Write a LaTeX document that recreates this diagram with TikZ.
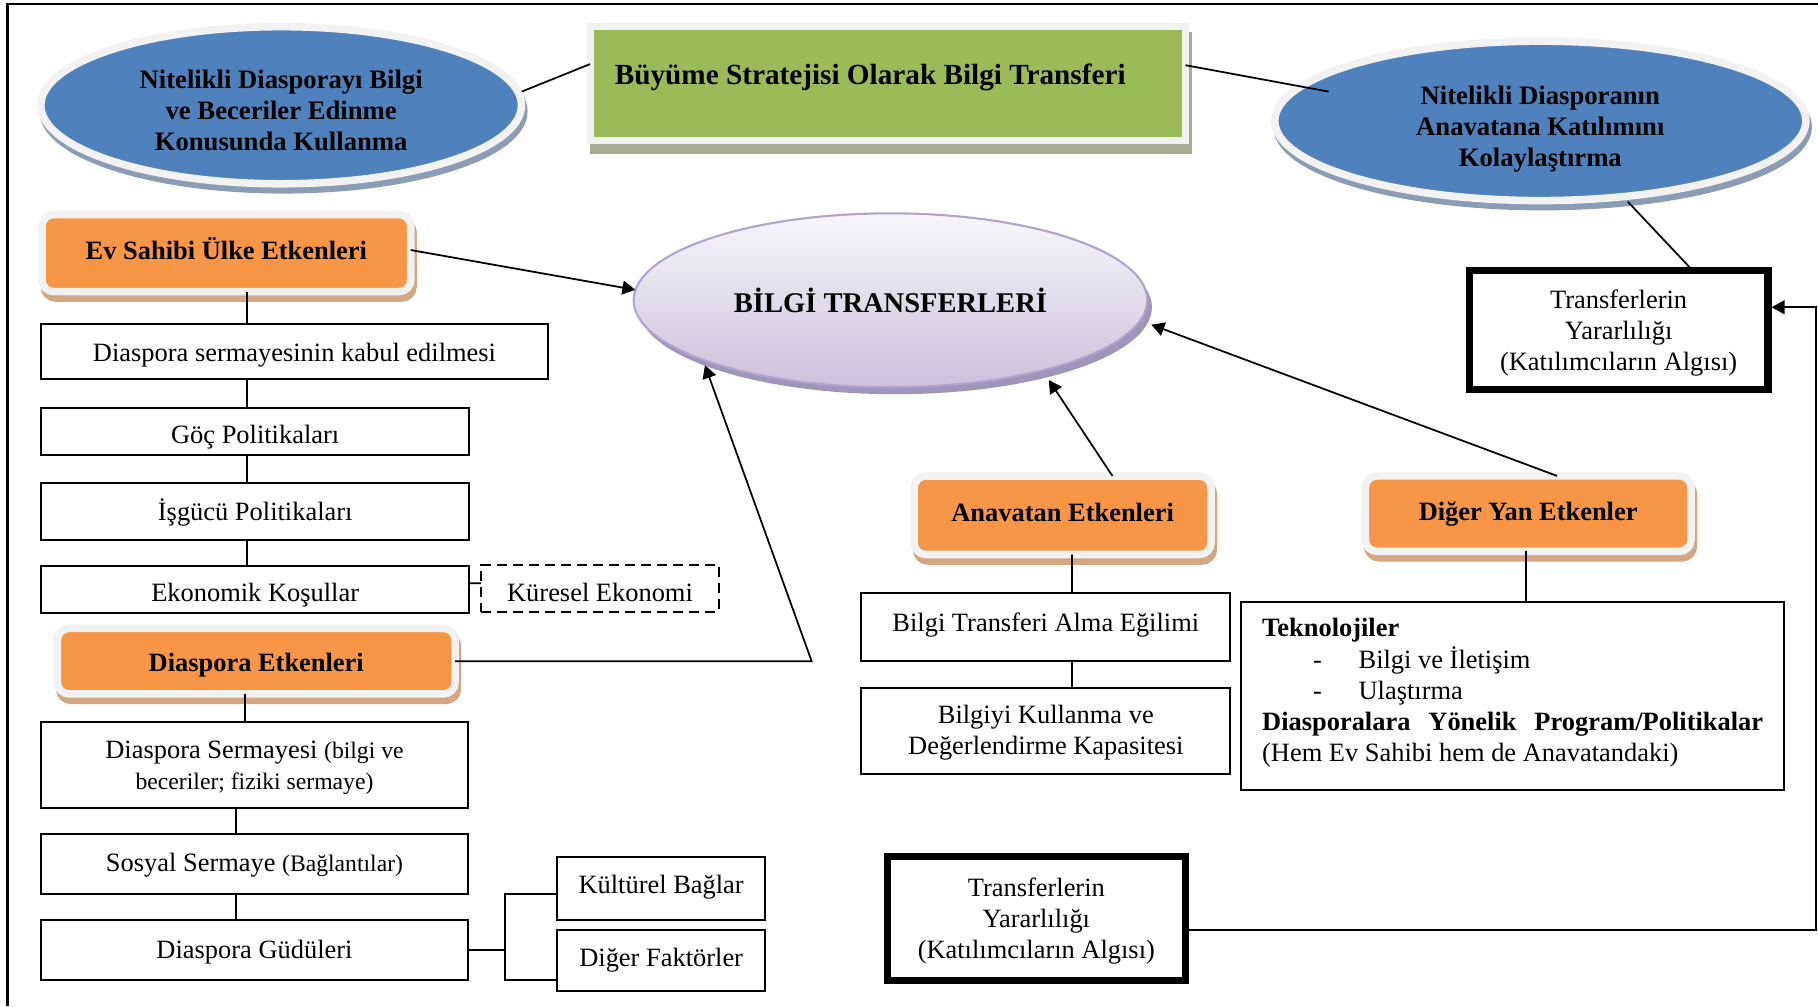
\documentclass[tikz,border=0pt]{standalone}
\usepackage{fontspec}
\setmainfont{Liberation Serif}
\usetikzlibrary{shapes.geometric,arrows.meta,calc}
\setlength\parindent{0pt}
\definecolor{blueF}{RGB}{79,129,189}
\definecolor{blueS}{RGB}{140,156,180}
\definecolor{rimC}{RGB}{242,242,242}
\definecolor{greenF}{RGB}{155,187,89}
\definecolor{greenS}{RGB}{165,174,145}
\definecolor{orF}{RGB}{247,150,70}
\definecolor{orS}{RGB}{212,166,130}
\definecolor{lavT}{RGB}{248,246,251}
\definecolor{lavB}{RGB}{204,192,218}
\definecolor{lavE}{RGB}{178,162,204}
\definecolor{lavS}{RGB}{160,148,186}
\newcommand\fsnorm{\fontsize{11.4pt}{13.4pt}\selectfont}
\newcommand\fssmall{\fontsize{10.2pt}{13.4pt}\selectfont}
\newcommand\fsbig{\fontsize{12.6pt}{14pt}\selectfont}
\newcommand\fsell{\fontsize{11.5pt}{13.3pt}\selectfont}
\newcommand\fsbt{\fontsize{12.3pt}{14pt}\selectfont}
\newcommand\lowered[2]{\raisebox{#1}[\height][\depth]{\begin{tabular}{@{}c@{}}#2\end{tabular}}}
\newcommand\shiftv[2]{\raisebox{#1}[\height][\depth]{#2}}
\begin{document}
\begin{tikzpicture}[x=0.5pt,y=-0.5pt,
  base/.style={outer sep=0pt, inner sep=0pt, font=\fsnorm},
  one/.style={text height=8pt, text depth=2.5pt},
  wbox/.style={base, draw, line width=0.85pt, fill=white},
  obox/.style={base, one, font=\fsnorm\bfseries, fill=orF, draw=rimC, line width=3.25pt, rounded corners=5pt,
    preaction={fill=orS, draw=orS, line width=3.25pt, transform canvas={xshift=1pt,yshift=-2.8pt}}},
  bell/.style={base, ellipse, font=\fsell\bfseries, fill=blueF, draw=rimC, line width=3.25pt,
    preaction={fill=blueS, draw=blueS, line width=3.25pt, transform canvas={xshift=1pt,yshift=-2.6pt}}},
  tbox/.style={base, draw, line width=3.25pt, fill=white},
  conn/.style={line width=0.75pt},
  arr/.style={conn, -{Triangle[length=5.6pt,width=6pt]}}
]
\useasboundingbox (0,0) rectangle (1568,868);
\fill[white] (0,0) rectangle (1568,868);
\draw[line width=0.9pt] (6.5,868) -- (6.5,3.5) -- (1568,3.5);

% top row
\node[bell, minimum width=207.25pt, minimum height=67.75pt] (ell1) at (242.5,90.75)
  {\lowered{-3.5pt}{Nitelikli Diasporayı Bilgi\\ve Beceriler Edinme\\Konusunda Kullanma}};
\node[base, font=\fsbig\bfseries, fill=greenF, draw=rimC, line width=3pt, minimum width=256.75pt, minimum height=49.25pt,
  preaction={fill=greenS, draw=greenS, line width=3pt, transform canvas={xshift=1.5pt,yshift=-4pt}}] (gr) at (765.75,72.25)
  {\raisebox{2.9pt}[\height][\depth]{Büyüme Stratejisi Olarak Bilgi Transferi}\kern15.2pt};
\node[bell, minimum width=229pt, minimum height=68.75pt] (ell2) at (1328.5,104.25)
  {\lowered{-3.75pt}{Nitelikli Diasporanın\\Anavatana Katılımını\\Kolaylaştırma}};

% centre
\node[base, ellipse, font=\fsbt\bfseries, top color=lavT, bottom color=lavB, draw=lavE, line width=0.9pt,
  minimum width=221.5pt, minimum height=75pt,
  preaction={fill=lavS, transform canvas={xshift=2pt,yshift=-3pt}}] (bt) at (768,259) {BİLGİ TRANSFERLERİ};

% orange factor boxes
\node[obox, minimum width=159pt, minimum height=33.25pt] (es) at (195.25,218.25) {Ev Sahibi Ülke Etkenleri};
\node[obox, minimum width=171.5pt, minimum height=28.25pt] (de) at (221,570.25) {\shiftv{-1.8pt}{Diaspora Etkenleri}};
\node[obox, minimum width=128pt, minimum height=33.85pt] (an) at (916.5,444.4) {Anavatan Etkenleri};
\node[obox, minimum width=140.5pt, minimum height=32.5pt] (dy) at (1318,443) {Diğer Yan Etkenler};

% left column
\node[wbox, one, minimum width=218.5pt, minimum height=23.5pt] (dsk) at (254,303) {\shiftv{-1.5pt}{Diaspora sermayesinin kabul edilmesi}};
\node[wbox, one, minimum width=184.6pt, minimum height=20.45pt] (goc) at (220.1,372) {\shiftv{-2.5pt}{Göç Politikaları}};
\node[wbox, one, minimum width=184.6pt, minimum height=24.75pt] (isg) at (220.1,441) {\shiftv{-1pt}{İşgücü Politikaları}};
\node[wbox, one, minimum width=184.6pt, minimum height=20.25pt] (eko) at (220.1,508.15) {\shiftv{-2.5pt}{Ekonomik Koşullar}};
\node[wbox, one, dash pattern=on 4.3pt off 2.6pt, minimum width=102.5pt, minimum height=20pt] (kur) at (517.5,507.5) {\shiftv{-3pt}{Küresel Ekonomi}};
\node[wbox, minimum width=184.5pt, minimum height=37pt] (dsy) at (219.5,660)
  {\lowered{-1.25pt}{Diaspora Sermayesi {\fssmall(bilgi ve}\\{\fssmall beceriler; fiziki sermaye)}}};
\node[wbox, one, minimum width=184.5pt, minimum height=26pt] (sos) at (219.5,745) {\shiftv{-0.5pt}{Sosyal Sermaye {\fssmall(Bağlantılar)}}};
\node[wbox, one, minimum width=184.5pt, minimum height=25.75pt] (gud) at (219.5,819.25) {\shiftv{-1pt}{Diaspora Güdüleri}};
\node[wbox, one, minimum width=89.75pt, minimum height=27.25pt] (kul) at (570.25,766.25) {\shiftv{0.5pt}{Kültürel Bağlar}};
\node[wbox, one, minimum width=89.75pt, minimum height=26.5pt] (dig) at (570.25,828.5) {Diğer Faktörler};

% right part
\node[wbox, one, minimum width=159pt, minimum height=29.1pt] (bta) at (902,540.9)
  {\shiftv{1pt}{Bilgi Transferi Alma Eğilimi}};
\node[wbox, minimum width=159pt, minimum height=36.95pt] (bkd) at (902,630.65)
  {\lowered{-0.5pt}{Bilgiyi Kullanma ve\\Değerlendirme Kapasitesi}};
\node[wbox, minimum width=234.1pt, minimum height=81pt] (tek) at (1304.6,600)
  {\shiftv{1.25pt}{\parbox{216pt}{\raggedright
   \textbf{Teknolojiler}\\
   \hspace*{22pt}\makebox[19.6pt][l]{-}Bilgi ve İletişim\\
   \hspace*{22pt}\makebox[19.6pt][l]{-}Ulaştırma\\
   \textbf{Diasporalara\hfill Yönelik\hfill Program/Politikalar}\\
   (Hem Ev Sahibi hem de Anavatandaki)}}};
\node[tbox, minimum width=128.75pt, minimum height=51.25pt] (tt) at (1396,284.5)
  {\lowered{-1.5pt}{Transferlerin\\Yararlılığı\\(Katılımcıların Algısı)}};
\node[tbox, minimum width=128.55pt, minimum height=53.55pt] (tb) at (893.8,792.2)
  {\lowered{-1.25pt}{Transferlerin\\Yararlılığı\\(Katılımcıların Algısı)}};

% connectors
\draw[conn] ($(ell1.center)+(207.5,-11.75)$) -- ($(gr.west)+(0,-17)$);
\draw[conn] ($(gr.east)+(0,-16)$) -- ($(ell2.center)+(-182.5,-25.25)$);
\draw[conn] ($(ell2.center)+(75.5,69.75)$) -- ($(tt.north)+(61,-3)$);

\draw[arr] ($(es.east)+(0,-2.6)$) -- ($(bt.center)+(-220,-9)$);
\draw[arr] (de.east) -- ($(de.east)+(307.5,0)$) -- ($(bt.center)+(-160,56)$);
\draw[arr] ($(an.north)+(43,0)$) -- ($(bt.center)+(136.6,68.8)$);
\draw[arr] ($(dy.north)+(25,0)$) -- ($(bt.center)+(225,21)$);
\draw[arr] ($(tb.east)+(0,10)$) -| ($(tt.east)+(41.25,-19.5)$) -- ($(tt.east)+(3.25,-19.5)$);

\draw[conn] ($(es.south)+(17.75,0)$) -- ($(dsk.north)+(-41,0)$);
\draw[conn] ($(dsk.south)+(-41,0)$) -- ($(goc.north)+(-7.1,0)$);
\draw[conn] ($(goc.south)+(-7.1,0)$) -- ($(isg.north)+(-7.1,0)$);
\draw[conn] ($(isg.south)+(-7.1,0)$) -- ($(eko.north)+(-7.1,0)$);
\draw[conn] ($(eko.east)+(0,-5)$) -- ($(kur.west)+(0,-4.5)$);

\draw[conn] ($(de.south)+(-9.5,0)$) -- ($(dsy.north)+(-8,0)$);
\draw[conn] ($(dsy.south)+(-16,0)$) -- ($(sos.north)+(-16,0)$);
\draw[conn] ($(sos.south)+(-16,0)$) -- ($(gud.north)+(-16,0)$);
\draw[conn] (gud.east) -- ($(gud.east)+(31.5,0)$);
\draw[conn] ($(kul.west)+(0,5)$) -| ($(dig.west)+(-45,16.5)$) -- ($(dig.west)+(0,16.5)$);

\draw[conn] ($(an.south)+(8,0)$) -- ($(bta.north)+(22.6,0)$);
\draw[conn] ($(bta.south)+(22.6,0)$) -- ($(bkd.north)+(22.6,0)$);
\draw[conn] ($(dy.south)+(-2,0)$) -- ($(tek.north)+(11.4,0)$);
\end{tikzpicture}
\end{document}
